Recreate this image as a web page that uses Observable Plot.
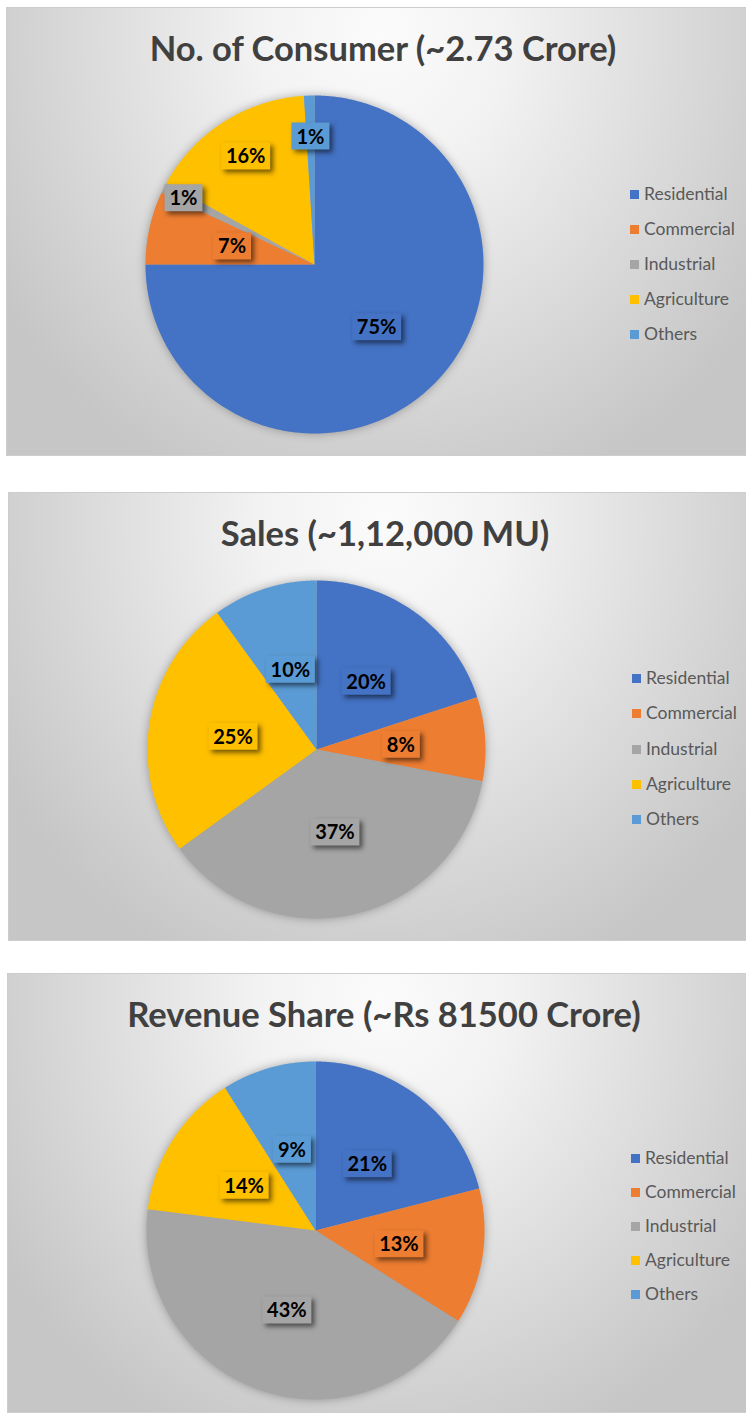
<!DOCTYPE html>
<html>
<head>
<meta charset="utf-8">
<script src="https://cdn.jsdelivr.net/npm/d3@7"></script>
<script src="https://cdn.jsdelivr.net/npm/@observablehq/plot@0.6"></script>
<style>
  html, body { margin: 0; padding: 0; background: #fff; width: 746px; height: 1414px; overflow: hidden; }
  body { position: relative; font-family: Lato, "Open Sans", sans-serif; }
  .panel {
    position: absolute; width: 752px; box-sizing: border-box;
    border: 1px solid #cdcdcd;
    background: radial-gradient(ellipse 60% 110% at 50% 6%, #fbfbfb 0%, #f2f2f2 28%, #dddddd 62%, #c6c6c6 100%);
    overflow: hidden;
  }
  .panel svg { position: absolute; left: 0; top: 0; overflow: visible; }
  .title {
    position: absolute; left: 0; width: 752px; top: 17px; height: 46px; line-height: 46px;
    text-align: center; font-family: Lato, sans-serif; font-weight: bold; font-size: 34.5px; color: #404040;
    white-space: nowrap;
  }
  .legend { position: absolute; left: 623px; font-family: Lato, sans-serif; font-size: 17.5px; color: #595959; }
  .legend .item { position: absolute; left: 0; white-space: nowrap; height: 20px; line-height: 20px; }
  .legend .sw { position: absolute; left: 0; top: 6px; width: 9px; height: 9px; }
  .legend .lb { position: absolute; left: 14px; top: 0; }
  .shadow-slices { filter: drop-shadow(0 0 5px rgba(0,0,0,0.3)); }
  .shadow-boxes path { filter: drop-shadow(3px 3px 2.5px rgba(0,0,0,0.55)); }
</style>
</head>
<body>
<script>
// ---------------- data ----------------
const categories = ["Residential", "Commercial", "Industrial", "Agriculture", "Others"];
const colors = ["#4472C4", "#ED7D31", "#A5A5A5", "#FFC000", "#5B9BD5"];
const titles = ["No. of Consumer (~2.73 Crore)", "Sales (~1,12,000 MU)", "Revenue Share (~Rs 81500 Crore)"];
const consumerShare = [75, 7, 1, 16, 1];
const salesShare = [20, 8, 37, 25, 10];
const revenueShare = [21, 13, 43, 14, 9];

// ---------------- layout (not data) ----------------
const panels = [
  {title: titles[0], values: consumerShare, left: 6, top: 7, height: 449, legendTop: 186, legendStep: 35,
   labelRadius: [0.52, 0.5, 0.87, 0.76, 0.76]},
  {title: titles[1], values: salesShare, left: 8, top: 492, height: 449, legendTop: 185, legendStep: 35.3,
   labelRadius: [0.5, 0.5, 0.5, 0.5, 0.5]},
  {title: titles[2], values: revenueShare, left: 7, top: 973, height: 440, legendTop: 184, legendStep: 34,
   labelRadius: [0.5, 0.5, 0.5, 0.5, 0.5]}
];
const W = 752, CX = 307, CY = 256, R = 169;

function arcRing(a0, a1) {
  const ring = [[0, 0]];
  const n = Math.max(2, Math.ceil((a1 - a0) / (Math.PI / 360)));
  for (let k = 0; k <= n; k++) {
    const a = a0 + (a1 - a0) * k / n;
    ring.push([Math.sin(a), -Math.cos(a)]);
  }
  ring.push([0, 0]);
  return ring;
}

const circle = {type: "Polygon", coordinates: [d3.range(0, 361, 1).map(d => [Math.sin(d * Math.PI / 180), -Math.cos(d * Math.PI / 180)])]};

panels.forEach(p => {
  const div = document.createElement("div");
  div.className = "panel";
  div.style.left = p.left + "px";
  div.style.top = p.top + "px";
  div.style.height = p.height + "px";
  document.body.appendChild(div);

  const arcs = d3.pie().sort(null).value(d => d)(p.values);
  const slices = arcs.map((a, i) => ({
    type: "Feature",
    properties: {category: categories[i], value: p.values[i]},
    geometry: {type: "Polygon", coordinates: [arcRing(a.startAngle, a.endAngle)]}
  }));
  const labels = arcs.map((a, i) => {
    const m = (a.startAngle + a.endAngle) / 2;
    const f = p.labelRadius[i];
    const text = p.values[i] + "%";
    return {category: categories[i], text, x: f * Math.sin(m), y: -f * Math.cos(m), w: (text.length * 11 + 16) / R, h: 27 / R};
  });
  const boxes = labels.map(l => ({
    type: "Feature",
    properties: {category: l.category},
    geometry: {type: "Polygon", coordinates: [[
      [l.x - l.w / 2, l.y - l.h / 2], [l.x + l.w / 2, l.y - l.h / 2],
      [l.x + l.w / 2, l.y + l.h / 2], [l.x - l.w / 2, l.y + l.h / 2], [l.x - l.w / 2, l.y - l.h / 2]
    ]]}
  }));

  const h = p.height - 2;
  const chart = Plot.plot({
    width: W - 2, height: h,
    marginLeft: CX - R, marginTop: CY - R,
    marginRight: (W - 2) - (CX + R), marginBottom: h - (CY + R),
    projection: {type: "identity", domain: circle},
    color: {domain: categories, range: colors},
    style: {background: "transparent", overflow: "visible"},
    marks: [
      Plot.geo(slices, {fill: d => d.properties.category, stroke: "none"}),
      Plot.geo(boxes, {fill: d => d.properties.category, stroke: "none"}),
      Plot.text(labels, {x: "x", y: "y", text: "text", fill: "#000", fontSize: 20, fontWeight: "bold",
        fontFamily: "Lato, sans-serif", textAnchor: "middle", lineAnchor: "middle", dy: 1})
    ]
  });
  const groups = chart.querySelectorAll(":scope > g");
  if (groups[0]) groups[0].classList.add("shadow-slices");
  if (groups[1]) groups[1].classList.add("shadow-boxes");
  div.appendChild(chart);

  const t = document.createElement("div");
  t.className = "title";
  t.textContent = p.title;
  div.appendChild(t);

  const lg = document.createElement("div");
  lg.className = "legend";
  lg.style.top = "0px";
  categories.forEach((c, i) => {
    const it = document.createElement("div");
    it.className = "item";
    it.style.top = (p.legendTop + i * p.legendStep - 10) + "px";
    const sw = document.createElement("span");
    sw.className = "sw"; sw.style.background = colors[i];
    const lb = document.createElement("span");
    lb.className = "lb"; lb.textContent = c;
    it.appendChild(sw); it.appendChild(lb);
    lg.appendChild(it);
  });
  div.appendChild(lg);
});
</script>
</body>
</html>
